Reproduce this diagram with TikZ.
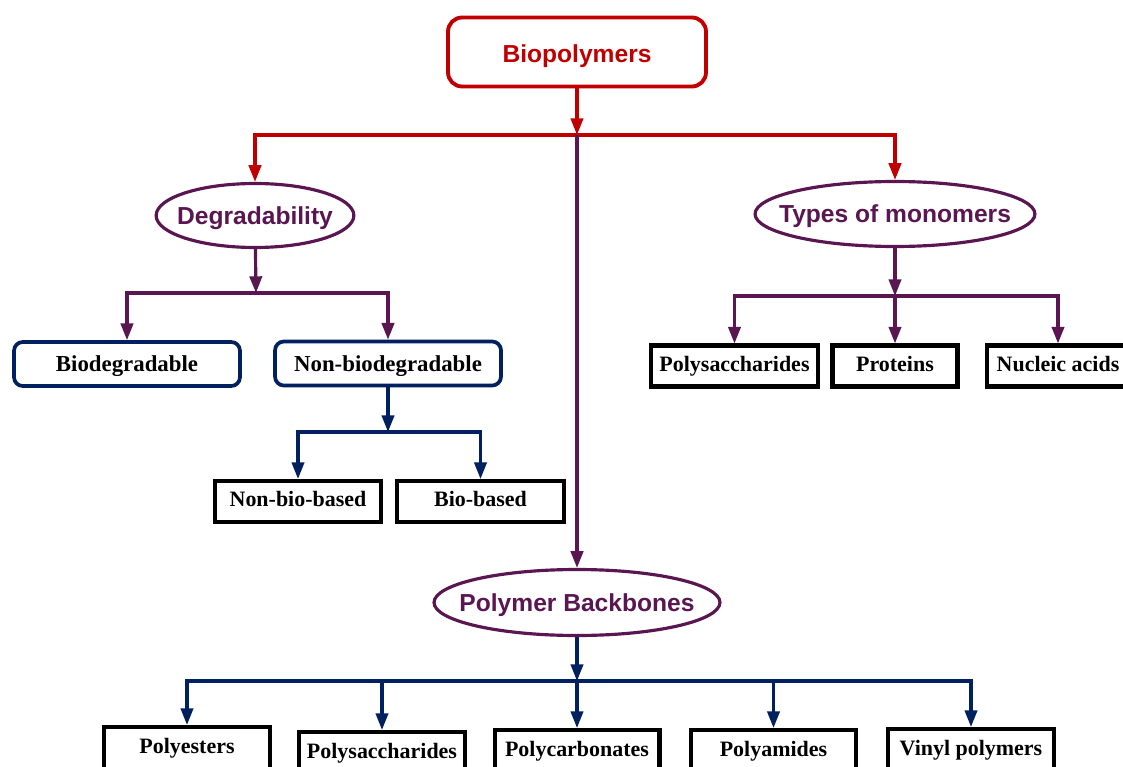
\documentclass[tikz,border=0pt]{standalone}
\usepackage{fontspec}
\setmainfont{Liberation Serif}
\setsansfont{Liberation Sans}
\usetikzlibrary{arrows.meta,shapes.geometric}
\definecolor{bpred}{HTML}{C00000}
\definecolor{bppurple}{HTML}{5A1650}
\definecolor{bpnavy}{HTML}{002060}

\begin{document}
\begin{tikzpicture}[x=0.02cm,y=-0.02cm,>={Triangle[length=9.5pt,width=7pt]},
	topbox/.style={rectangle, rounded corners=8pt, draw=bpred, line width=2.2pt, text=bpred, font=\sffamily\bfseries\fontsize{14}{16}\selectfont, minimum width=5.16cm, minimum height=1.38cm, text height=11.9pt, text depth=0pt},
	oval/.style={ellipse, draw=bppurple, line width=1.8pt, text=bppurple, font=\sffamily\bfseries\fontsize{14}{16}\selectfont, inner ysep=0pt, text depth=0pt},
	roundbox/.style={rectangle, rounded corners=5pt, draw=bpnavy, line width=2.1pt, font=\bfseries\fontsize{13}{15}\selectfont, minimum width=4.52cm, minimum height=0.88cm, text depth=0pt},
	plainbox/.style={rectangle, draw=black, line width=2.3pt, font=\bfseries\fontsize{12.5}{14}\selectfont, minimum height=0.82cm, inner sep=0pt, text height=8.75pt, text depth=2.5pt},
	redline/.style={draw=bpred, line width=1.8pt},
	purpleline/.style={draw=bppurple, line width=1.8pt},
	navyline/.style={draw=bpnavy, line width=1.8pt}]
	\useasboundingbox (0,0) rectangle (1123,767);

	% top
	\node (bio) at (577, 52) [topbox] {Biopolymers};
	\coordinate (j0) at (577,135);

	% the three ovals
	\node (deg)  at (255, 215.5) [oval, inner xsep=-0.16cm, minimum width=3.9cm,  minimum height=1.28cm] {Degradability};
	\node (mono) at (895, 214)   [oval, inner xsep=-0.34cm, minimum width=5.56cm, minimum height=1.3cm]  {Types of monomers};
	\node (back) at (577, 602.5) [oval, inner xsep=-0.33cm, minimum width=5.72cm, minimum height=1.32cm] {Polymer Backbones};

	% degradability
	\node (bdeg) at (127, 364)   [roundbox, text depth=-2pt] {Biodegradable};
	\node (nbio) at (388, 363.5) [roundbox] {Non-biodegradable};
	\coordinate (j1) at (256,293);
	\node (nbb) at (298, 501.5)   [plainbox, minimum width=3.32cm] {Non-bio-based};
	\node (bb)  at (480.5, 501.5) [plainbox, minimum width=3.34cm] {Bio-based};
	\coordinate (j2) at (388,432);

	% monomers
	\node (psm)  at (734.5, 366) [plainbox, minimum width=3.34cm] {Polysaccharides};
	\node (prot) at (895, 366)   [plainbox, minimum width=2.5cm]  {Proteins};
	\node (nuc)  at (1058, 366)  [plainbox, minimum width=2.84cm] {Nucleic acids};
	\coordinate (j3) at (895,296);

	% backbones
	\node (pe)  at (187, 748)   [plainbox, minimum width=3.32cm, minimum height=0.84cm] {Polyesters};
	\node (psb) at (382, 753)   [plainbox, minimum width=3.32cm, minimum height=0.84cm] {Polysaccharides};
	\node (pc)  at (577, 751)   [plainbox, minimum width=3.3cm,  minimum height=0.84cm] {Polycarbonates};
	\node (pa)  at (773.5, 751) [plainbox, minimum width=3.3cm,  minimum height=0.84cm] {Polyamides};
	\node (vp)  at (971, 750)   [plainbox, minimum width=3.32cm, minimum height=0.84cm] {Vinyl polymers};
	\coordinate (j4) at (577,681);

	% connectors
	\draw[redline,->] (bio) -- (j0);
	\draw[redline,->] (j0) -| (deg);
	\draw[redline,->] (j0) -| (mono);
	\draw[purpleline,->] (j0) -- (back);

	\draw[purpleline,->] (deg) -- (j1);
	\draw[purpleline,->] (j1) -| (bdeg);
	\draw[purpleline,->] (j1) -| (nbio);
	\draw[navyline,->] (nbio) -- (j2);
	\draw[navyline,->] (j2) -| (nbb);
	\draw[navyline,->] (j2) -| (bb);

	\draw[purpleline,->] (mono) -- (j3);
	\draw[purpleline,->] (j3) -| (psm);
	\draw[purpleline,->] (j3) -- (prot);
	\draw[purpleline,->] (j3) -| (nuc);

	\draw[navyline,->] (back) -- (j4);
	\draw[navyline,->] (j4) -| (pe);
	\draw[navyline,->] (j4) -| (psb);
	\draw[navyline,->] (j4) -- (pc);
	\draw[navyline,->] (j4) -| (pa);
	\draw[navyline,->] (j4) -| (vp);
\end{tikzpicture}
\end{document}
